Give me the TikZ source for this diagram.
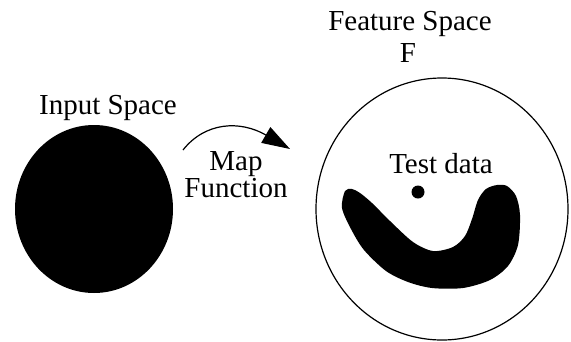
\documentclass[tikz,border=0pt]{standalone}
\usepackage{fontspec}
\setmainfont{Liberation Serif}
\usetikzlibrary{shapes.geometric,arrows.meta}
\tikzset{
  lbl/.style={inner sep=0pt, anchor=base, font=\fontsize{29}{34}\selectfont},
  blobfill/.style={fill=black, draw=none},
  outline/.style={draw=black, line width=1.2pt, fill=none},
}
\begin{document}
\begin{tikzpicture}[x=1pt,y=-1pt]
\useasboundingbox (0,0) rectangle (571,341);
% input space
\node[lbl] (inlabel) at (108,114) {Input Space};
\node[ellipse, blobfill, minimum width=158pt, minimum height=168pt, inner sep=0pt] (input) at (94,209) {};
% feature space
\node[lbl] (fslabel) at (410,30) {Feature Space};
\node[lbl] (flabel) at (408,62) {F};
\node[ellipse, outline, minimum width=252pt, minimum height=262pt, inner sep=0pt] (feature) at (442,209) {};
\node[lbl] (test) at (441,173) {Test data};
\node[circle, blobfill, minimum size=13pt, inner sep=0pt] (dot) at (418,192) {};
% blob
\fill[black] plot[smooth cycle, tension=0.5] coordinates {
  (345,191) (352,189) (360,193) (372,203) (390,221) (413,242) (433,251)
  (453,247) (465,236) (472,219) (478,200) (486,189) (497,185) (507,186)
  (516,196) (520,215) (518,245) (508,266) (490,280) (463,288) (432,288)
  (408,282) (386,271) (364,250) (351,229) (342,208)};
% map function
\node[lbl, align=center, font=\fontsize{29}{22}\selectfont] (mapfunc) at (236,197) {Map\\Function};
\coordinate (arrs) at (183,150);
\coordinate (arre) at (290,149);
\draw[line width=1.2pt, -{Triangle[length=28pt,width=18pt]}] (arrs) .. controls (205,122) and (240,120) .. (arre);
\end{tikzpicture}
\end{document}
